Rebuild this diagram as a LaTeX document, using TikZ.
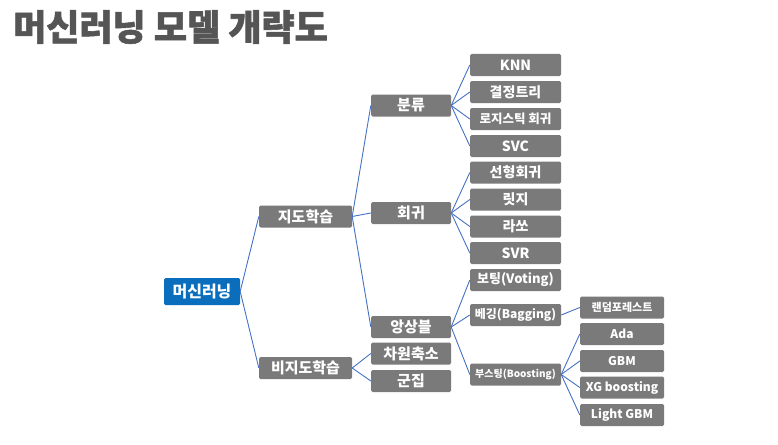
\documentclass[tikz,border=0pt]{standalone}
\usepackage{fontspec}
\setmainfont{Noto Sans CJK KR}
\newfontfamily\titlefont{Noto Sans CJK KR}[BoldFeatures={FakeBold=1.6}]
\definecolor{boxgray}{HTML}{7A7A7A}
\definecolor{mlblue}{HTML}{0A6EBD}
\definecolor{linkblue}{HTML}{4472C4}
\definecolor{titlegray}{HTML}{555555}
\begin{document}
\begin{tikzpicture}[x=1pt,y=-1pt,
  box/.style={fill=boxgray,rounded corners=1.5pt,text=white,font=\bfseries\fontsize{15}{16}\selectfont,inner sep=0pt,minimum height=22pt,align=center},
  lvone/.style={box,minimum width=93pt},
  lvtwo/.style={box,minimum width=80pt},
  lvthree/.style={box,minimum width=91pt,font=\bfseries\fontsize{14}{15}\selectfont},
  lvfour/.style={box,minimum width=84pt,font=\bfseries\fontsize{12}{13}\selectfont},
  link/.style={draw=linkblue,line width=0.9pt}]
\useasboundingbox (0,0) rectangle (778,444);
\node[anchor=west,inner sep=0pt,text=titlegray,font=\titlefont\bfseries\fontsize{36}{38}\selectfont] (title) at (13,27) {머신러닝 모델 개략도};
\node[box,fill=mlblue,minimum width=76pt,minimum height=27pt,font=\bfseries\fontsize{16}{17}\selectfont] (ml) at (202,291.5) {머신러닝};
\node[lvone] (sup) at (305.5,216.5) {지도학습};
\node[lvone] (unsup) at (305.5,368) {비지도학습};
\node[lvtwo] (cls) at (411,105.5) {분류};
\node[lvtwo] (reg) at (411,213) {회귀};
\node[lvtwo] (ens) at (411,327) {앙상블};
\node[lvtwo] (dim) at (411,353.5) {차원축소};
\node[lvtwo] (clu) at (411,381) {군집};
\node[lvthree] (knn) at (515.5,65) {KNN};
\node[lvthree] (dt) at (515.5,92) {결정트리};
\node[lvthree,font=\bfseries\fontsize{12.5}{13}\selectfont] (lr) at (515.5,119) {로지스틱 회귀};
\node[lvthree] (svc) at (515.5,146) {SVC};
\node[lvthree] (lin) at (515.5,172.5) {선형회귀};
\node[lvthree] (ridge) at (515.5,199.5) {릿지};
\node[lvthree] (lasso) at (515.5,226.5) {라쏘};
\node[lvthree] (svr) at (515.5,253) {SVR};
\node[lvthree,font=\bfseries\fontsize{13}{14}\selectfont] (vot) at (515.5,280) {보팅(Voting)};
\node[lvthree,font=\bfseries\fontsize{12}{13}\selectfont] (bag) at (515.5,315) {베깅(Bagging)};
\node[lvthree,font=\bfseries\fontsize{10}{11}\selectfont] (boo) at (515.5,374.5) {부스팅(Boosting)};
\node[lvfour,font=\bfseries\fontsize{11}{12}\selectfont] (rf) at (622,307.5) {랜덤포레스트};
\node[lvfour] (ada) at (622,334) {Ada};
\node[lvfour] (gbm) at (622,361) {GBM};
\node[lvfour] (xg) at (622,387.5) {XG boosting};
\node[lvfour] (lgbm) at (622,415) {Light GBM};
\foreach \c in {sup,unsup} \draw[link] (ml.east) -- (\c.west);
\foreach \c in {cls,reg,ens} \draw[link] (sup.east) -- (\c.west);
\foreach \c in {dim,clu} \draw[link] (unsup.east) -- (\c.west);
\foreach \c in {knn,dt,lr,svc} \draw[link] (cls.east) -- (\c.west);
\foreach \c in {lin,ridge,lasso,svr} \draw[link] (reg.east) -- (\c.west);
\foreach \c in {vot,bag,boo} \draw[link] (ens.east) -- (\c.west);
\draw[link] (bag.east) -- (rf.west);
\foreach \c in {ada,gbm,xg,lgbm} \draw[link] (boo.east) -- (\c.west);
\end{tikzpicture}
\end{document}
